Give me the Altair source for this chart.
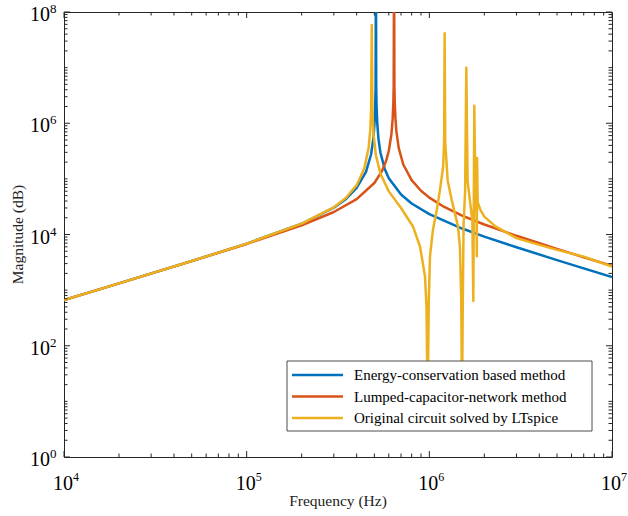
import altair as alt
import pandas as pd

# ---------------- data ----------------
series_names = ["Energy-conservation based method",
                "Lumped-capacitor-network method",
                "Original circuit solved by LTspice"]
series_colors = ["#0072BD", "#D95319", "#EDB120"]

energy_freq = [1e4, 2e4, 5e4, 1e5, 2e5, 3e5, 3.5e5, 4e5, 4.5e5, 4.8e5,
               4.95e5, 5.03e5, 5.08e5, 5.10e5, 5.12e5, 5.14e5, 5.19e5, 5.27e5, 5.4e5, 5.7e5,
               6e5, 7e5, 8e5, 1e6, 1.5e6, 2e6, 3e6, 5e6, 7e6, 1e7]
energy_mag = [660, 1322, 3332, 6864, 15600, 30280, 43670, 68590, 134100, 277400,
              563700, 1.218e6, 4.29e6, 1e9, 4.30e6, 2.158e6, 9.619e5, 5.132e5, 2.943e5, 1.510e5,
              1.031e5, 52270, 36150, 23200, 12940, 9180, 5893, 3469, 2465, 1721]

lumped_freq = [1e4, 2e4, 5e4, 1e5, 2e5, 3e5, 4e5, 5e5, 5.5e5, 5.8e5,
               6.0e5, 6.2e5, 6.3e5, 6.35e5, 6.38e5, 6.41e5, 6.44e5, 6.47e5, 6.52e5, 6.6e5,
               6.8e5, 7.2e5, 8e5, 9e5, 1e6, 1.2e6, 1.5e6, 2e6, 3e6, 5e6, 7e6, 1e7]
lumped_mag = [660, 1320, 3320, 6765, 14620, 25350, 43240, 84290, 137600, 211100,
              319900, 635400, 1.223e6, 2.247e6, 4.51e6, 1e9, 4.53e6, 2.27e6, 1.243e6, 723600,
              357900, 181600, 94690, 61150, 46030, 31620, 22120, 15110, 9474, 5514, 3907, 2723]

ltspice_freq = [1e4, 2e4, 5e4, 1e5, 2e5, 3e5, 3.5e5, 4e5, 4.4e5, 4.65e5,
                4.75e5, 4.8e5, 4.84e5, 4.88e5, 4.95e5, 5.1e5, 5.4e5, 6e5, 7e5, 8.14e5,
                8.89e5, 9.47e5, 9.65e5, 9.79e5, 9.93e5, 1.008e6, 1.047e6, 1.10e6, 1.144e6, 1.19e6,
                1.205e6, 1.213e6, 1.222e6, 1.26e6, 1.33e6, 1.435e6, 1.47e6, 1.495e6, 1.51e6, 1.525e6,
                1.54e6, 1.57e6, 1.594e6, 1.62e6, 1.68e6, 1.72e6, 1.741e6, 1.762e6, 1.79e6, 1.81e6,
                1.82e6, 1.825e6, 1.84e6, 1.9e6, 2.0e6, 2.3e6, 3e6, 4e6, 5e6, 7e6, 1e7]
ltspice_mag = [660, 1320, 3333, 6865, 15645, 30875, 45743, 77124, 151980, 357150,
               757740, 1.711e6, 5.85e7, 1.715e6, 626800, 265830, 124080, 59604, 29998, 13900,
               6090, 1760, 500, 8, 600, 4030, 12290, 28080, 64150, 165320,
               494450, 4.15e7, 457980, 93910, 39771, 14000, 6000, 700, 8, 700,
               14699, 61300, 1.0e7, 90650, 33486, 17763, 637, 2.06e6, 44150, 25000,
               4080, 2.38e5, 38000, 28000, 21000, 14000, 8600, 6500, 5300, 4000, 2650]

x_major = [1e4, 1e5, 1e6, 1e7]
x_minor = [k * 10 ** n for n in (4, 5, 6) for k in range(2, 10)]
y_major = [1, 1e2, 1e4, 1e6, 1e8]
y_minor = [1e1, 1e3, 1e5, 1e7] + [k * 10 ** n for n in range(0, 8) for k in range(2, 10)]
x_label_exp = ["4", "5", "6", "7"]
y_label_exp = ["0", "2", "4", "6", "8"]

# ---------------- build ----------------
W, H = 548, 445
FONT = "Liberation Serif"
AX = "#262626"

rows = []
for name, fs, ms in zip(series_names,
                        [energy_freq, lumped_freq, ltspice_freq],
                        [energy_mag, lumped_mag, ltspice_mag]):
    for f, m in zip(fs, ms):
        rows.append({"series": name, "f": f, "m": m})
df = pd.DataFrame(rows)

xs = alt.Scale(type="log", domain=[1e4, 1e7], nice=False)
ys = alt.Scale(type="log", domain=[1, 1e8], nice=False)
cs = alt.Scale(domain=series_names, range=series_colors)

lines = alt.Chart(df).mark_line(clip=True, strokeWidth=2.5, strokeJoin="round").encode(
    x=alt.X("f:Q", scale=xs, axis=None),
    y=alt.Y("m:Q", scale=ys, axis=None),
    color=alt.Color("series:N", scale=cs, legend=None),
)


def xticks(vals, length, top):
    d = pd.DataFrame({"v": vals})
    if top:
        yy, yy2 = alt.value(0), alt.value(length)
    else:
        yy, yy2 = alt.value(H), alt.value(H - length)
    return alt.Chart(d).mark_rule(color=AX, strokeWidth=1).encode(
        x=alt.X("v:Q", scale=xs, axis=None), y=yy, y2=yy2)


def yticks(vals, length, right):
    d = pd.DataFrame({"v": vals})
    if right:
        xx, xx2 = alt.value(W), alt.value(W - length)
    else:
        xx, xx2 = alt.value(0), alt.value(length)
    return alt.Chart(d).mark_rule(color=AX, strokeWidth=1).encode(
        y=alt.Y("v:Q", scale=ys, axis=None), x=xx, x2=xx2)


ticks = [xticks(x_major, 6, False), xticks(x_minor, 3.5, False),
         xticks(x_major, 6, True), xticks(x_minor, 3.5, True),
         yticks(y_major, 6, False), yticks(y_minor, 3.5, False),
         yticks(y_major, 6, True), yticks(y_minor, 3.5, True)]

# ---- legend (drawn as a box over the plot, like the reference) ----
LX0, LX1, LY0, LY1 = 223, 528, 349, 419
row_y = [363, 384.5, 406]
legend_layers = [alt.Chart(pd.DataFrame({"a": [0]})).mark_rect(
    fill="white", stroke="#4d4d4d", strokeWidth=1).encode(
    x=alt.value(LX0), x2=alt.value(LX1), y=alt.value(LY0), y2=alt.value(LY1))]
for name, ry in zip(series_names, row_y):
    d = pd.DataFrame({"series": [name]})
    legend_layers.append(alt.Chart(d).mark_rule(strokeWidth=2.5).encode(
        x=alt.value(228), x2=alt.value(279), y=alt.value(ry),
        color=alt.Color("series:N", scale=cs, legend=None)))
    legend_layers.append(alt.Chart(d).mark_text(
        font=FONT, fontSize=15, align="left", baseline="middle", color="black").encode(
        x=alt.value(290), y=alt.value(ry), text="series:N"))

# ---- tick labels 10^n ----
xl = pd.DataFrame({"v": x_major, "e": x_label_exp})
yl = pd.DataFrame({"v": y_major, "e": y_label_exp})

x_base = alt.Chart(xl).mark_text(font=FONT, fontSize=20, align="center", dx=-1,
                                 baseline="alphabetic", color="black").encode(
    x=alt.X("v:Q", scale=xs, axis=None), y=alt.value(H + 33), text=alt.value("10"))
x_exp = alt.Chart(xl).mark_text(font=FONT, fontSize=12, align="left", dx=9,
                                baseline="alphabetic", color="black").encode(
    x=alt.X("v:Q", scale=xs, axis=None), y=alt.value(H + 24), text="e:N")

y_base = alt.Chart(yl).mark_text(font=FONT, fontSize=20, align="right", dy=9,
                                 baseline="alphabetic", color="black").encode(
    y=alt.Y("v:Q", scale=ys, axis=None), x=alt.value(-14), text=alt.value("10"))
y_exp = alt.Chart(yl).mark_text(font=FONT, fontSize=13, align="left", dy=1,
                                baseline="alphabetic", color="black").encode(
    y=alt.Y("v:Q", scale=ys, axis=None), x=alt.value(-14), text="e:N")

xt = alt.Chart(pd.DataFrame({"t": ["Frequency (Hz)"]})).mark_text(
    font=FONT, fontSize=15.5, align="center", baseline="alphabetic", color="#222").encode(
    x=alt.value(W / 2), y=alt.value(H + 49), text="t:N")
yt = alt.Chart(pd.DataFrame({"t": ["Magnitude (dB)"]})).mark_text(
    font=FONT, fontSize=15.5, align="center", baseline="middle", angle=270, color="#222").encode(
    x=alt.value(-46), y=alt.value(H / 2), text="t:N")

chart = alt.layer(lines, *legend_layers, *ticks, x_base, x_exp, y_base, y_exp, xt, yt).properties(
    width=W, height=H,
    padding={"left": 64, "top": 12, "right": 16, "bottom": 59},
    autosize=alt.AutoSizeParams(type="none"),
).configure_view(stroke=AX, strokeWidth=1)

chart.save("out.html", embed_options={"renderer": "svg", "actions": False})
